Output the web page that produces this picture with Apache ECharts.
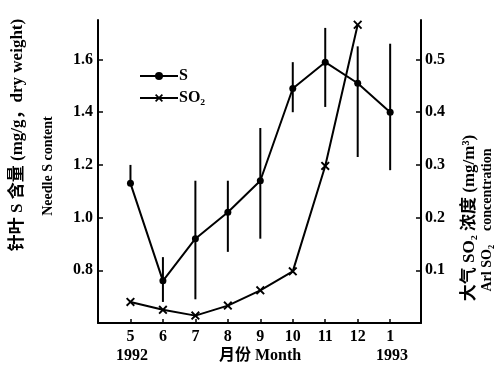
<!DOCTYPE html>
<html>
<head>
<meta charset="utf-8">
<script src="https://cdn.jsdelivr.net/npm/echarts@6/dist/echarts.min.js"></script>
<style>
  html, body { margin: 0; padding: 0; background: #fff; }
  #chart { width: 504px; height: 370px; }
</style>
</head>
<body>
<div id="chart"></div>
<script>
  // months May 1992 .. Jan 1993
  var months = ['5', '6', '7', '8', '9', '10', '11', '12', '1'];
  // needle S content (mg/g dry weight), with error bar ends
  var sContent = [1.13, 0.76, 0.92, 1.02, 1.14, 1.49, 1.59, 1.51, 1.40];
  var sLow = [1.13, 0.68, 0.69, 0.87, 0.92, 1.40, 1.42, 1.23, 1.18];
  var sHigh = [1.20, 0.85, 1.14, 1.14, 1.34, 1.59, 1.72, 1.65, 1.66];
  // air SO2 concentration (mg/m3), May..Dec
  var so2 = [0.040, 0.025, 0.014, 0.033, 0.062, 0.098, 0.298, 0.566];
  var leftTicks = [0.8, 1.0, 1.2, 1.4, 1.6];
  var rightTicks = [0.1, 0.2, 0.3, 0.4, 0.5];
  var monthIdx = months.map(function (m, i) { return i; });

  var serif = "'Liberation Serif', 'Noto Sans CJK SC', serif";
  var xMark = 'path://M0,1.5L1.5,0L5,3.5L8.5,0L10,1.5L6.5,5L10,8.5L8.5,10L5,6.5L1.5,10L0,8.5L3.5,5Z';

  var chart = echarts.init(document.getElementById('chart'));
  chart.setOption({
    animation: false,
    backgroundColor: '#fff',
    grid: { left: 98, right: 83, top: 20, bottom: 47 },
    legend: {
      orient: 'vertical',
      left: 134, top: 63,
      itemWidth: 38, itemHeight: 10, itemGap: 6,
      textStyle: { fontFamily: serif, fontWeight: 'bold', fontSize: 16, color: '#000', padding: [0, 0, 0, -4] },
      data: ['S', 'SO₂']
    },
    xAxis: {
      type: 'value',
      min: -1, max: 8.95,
      splitLine: { show: false },
      axisLine: { onZero: false, lineStyle: { color: '#000', width: 2 } },
      axisTick: { inside: true, length: 4, customValues: monthIdx, lineStyle: { color: '#000', width: 1.5 } },
      axisLabel: {
        customValues: monthIdx,
        formatter: function (v) { return months[v]; },
        fontFamily: serif, fontWeight: 'bold', fontSize: 16, color: '#000', margin: 6
      }
    },
    yAxis: [
      {
        type: 'value',
        min: 0.6, max: 1.75,
        splitLine: { show: false },
        axisLine: { show: true, onZero: false, lineStyle: { color: '#000', width: 2 } },
        axisTick: { show: true, inside: true, length: 5, customValues: leftTicks, lineStyle: { color: '#000', width: 1.5 } },
        axisLabel: {
          customValues: leftTicks,
          formatter: function (v) { return v.toFixed(1); },
          fontFamily: serif, fontWeight: 'bold', fontSize: 16, color: '#000', margin: 5
        }
      },
      {
        type: 'value',
        min: 0, max: 0.575,
        position: 'right',
        splitLine: { show: false },
        axisLine: { show: true, onZero: false, lineStyle: { color: '#000', width: 2 } },
        axisTick: { show: true, inside: true, length: 5, customValues: rightTicks, lineStyle: { color: '#000', width: 1.5 } },
        axisLabel: {
          customValues: rightTicks,
          formatter: function (v) { return v.toFixed(1); },
          fontFamily: serif, fontWeight: 'bold', fontSize: 16, color: '#000', margin: 4
        }
      }
    ],
    graphic: [
      { type: 'text', x: 18, y: 135, rotation: Math.PI / 2,
        style: { text: '针叶 S 含量 (mg/g，dry weight)', fill: '#000', font: 'bold 17px ' + serif, align: 'center', verticalAlign: 'middle' } },
      { type: 'text', x: 48, y: 166, rotation: Math.PI / 2,
        style: { text: 'Needle S content', fill: '#000', font: 'bold 14px ' + serif, align: 'center', verticalAlign: 'middle' } },
      { type: 'text', x: 470, y: 218, rotation: Math.PI / 2,
        style: { text: '大气 SO₂ 浓度 (mg/m³)', fill: '#000', font: 'bold 17px ' + serif, align: 'center', verticalAlign: 'middle' } },
      { type: 'text', x: 487, y: 220, rotation: Math.PI / 2,
        style: { text: 'Arl SO₂    concentration', fill: '#000', font: 'bold 14px ' + serif, align: 'center', verticalAlign: 'middle' } },
      { type: 'text', x: 132, y: 356,
        style: { text: '1992', fill: '#000', font: 'bold 16px ' + serif, align: 'center', verticalAlign: 'middle' } },
      { type: 'text', x: 260, y: 356,
        style: { text: '月份 Month', fill: '#000', font: 'bold 16px ' + serif, align: 'center', verticalAlign: 'middle' } },
      { type: 'text', x: 392, y: 356,
        style: { text: '1993', fill: '#000', font: 'bold 16px ' + serif, align: 'center', verticalAlign: 'middle' } }
    ],
    series: [
      {
        name: 'S error',
        type: 'custom',
        yAxisIndex: 0,
        data: monthIdx.map(function (i) { return [i, sLow[i], sHigh[i]]; }),
        encode: { x: 0, y: [1, 2] },
        renderItem: function (params, api) {
          var a = api.coord([api.value(0), api.value(1)]);
          var b = api.coord([api.value(0), api.value(2)]);
          return {
            type: 'line',
            shape: { x1: a[0], y1: a[1], x2: b[0], y2: b[1] },
            style: { stroke: '#000', lineWidth: 2 }
          };
        },
        silent: true, z: 1
      },
      {
        name: 'S',
        type: 'line',
        yAxisIndex: 0,
        data: monthIdx.map(function (i) { return [i, sContent[i]]; }),
        symbol: 'circle', symbolSize: 7,
        itemStyle: { color: '#000' },
        lineStyle: { color: '#000', width: 2 },
        z: 3
      },
      {
        name: 'SO₂',
        type: 'line',
        yAxisIndex: 1,
        data: so2.map(function (v, i) { return [i, v]; }),
        symbol: xMark, symbolSize: 9,
        itemStyle: { color: '#000' },
        lineStyle: { color: '#000', width: 2 },
        z: 3
      }
    ]
  });
</script>
</body>
</html>
